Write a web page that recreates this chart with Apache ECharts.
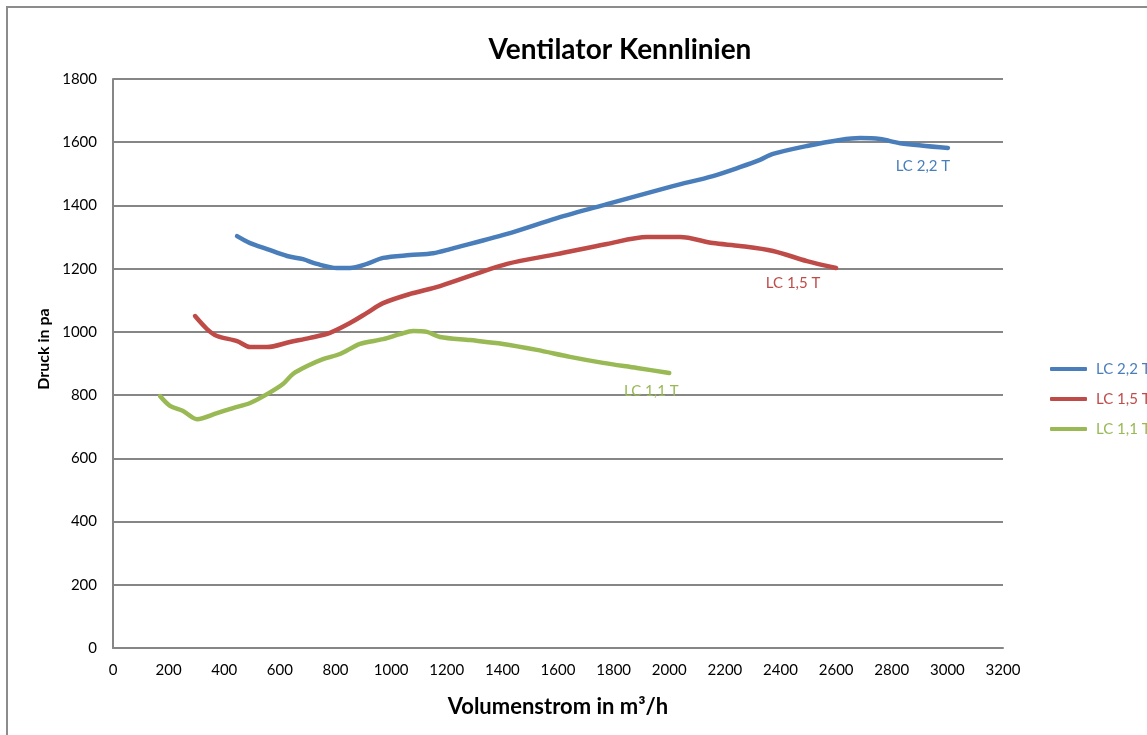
<!DOCTYPE html>
<html>
<head>
<meta charset="utf-8">
<title>Ventilator Kennlinien</title>
<script src="https://cdn.jsdelivr.net/npm/echarts@6/dist/echarts.min.js"></script>
<style>
  html, body { margin: 0; padding: 0; background: #fff; }
  #chart { width: 1147px; height: 735px; }
</style>
</head>
<body>
<div id="chart"></div>
<script>
// Volumenstrom (m³/h) und Druck (Pa)
const lc22X = [446, 493, 554, 626, 683, 733, 805, 852, 913, 971, 1068, 1151, 1212, 1417, 1596, 1776, 2013, 2157, 2254, 2326, 2373, 2495, 2614, 2686, 2758, 2830, 3002]
const lc22Y = [1303, 1281, 1262, 1240, 1230, 1215, 1202, 1202, 1215, 1234, 1243, 1249, 1262, 1310, 1360, 1404, 1461, 1493, 1521, 1544, 1563, 1588, 1607, 1613, 1610, 1597, 1582]

const lc15X = [295, 338, 374, 446, 493, 554, 636, 708, 780, 852, 913, 971, 1068, 1176, 1417, 1596, 1776, 1920, 2039, 2157, 2254, 2373, 2495, 2600]
const lc15Y = [1050, 1009, 987, 971, 952, 952, 968, 981, 997, 1028, 1060, 1091, 1120, 1145, 1215, 1246, 1278, 1300, 1300, 1281, 1272, 1256, 1224, 1202]

const lc11X = [169, 205, 252, 302, 374, 431, 493, 554, 611, 647, 698, 755, 816, 888, 971, 1032, 1079, 1129, 1176, 1284, 1402, 1524, 1643, 1762, 1884, 2000]
const lc11Y = [797, 766, 750, 724, 743, 759, 775, 803, 835, 867, 892, 914, 930, 962, 977, 993, 1003, 1000, 984, 974, 962, 943, 921, 902, 886, 870]

const seriesNames = ['LC 2,2 T', 'LC 1,5 T', 'LC 1,1 T']
const seriesColors = ['#4a7ebb', '#be4b48', '#98b954']
// where the name sits relative to the last point of each curve
const endLabelOffsets = [[-25, 18], [-43, 15], [-18, 18]]

const FONT = 'Lato, "Open Sans", sans-serif'

const chart = echarts.init(document.getElementById('chart'))

chart.setOption({
  backgroundColor: '#fff',
  animation: false,
  title: {
    text: 'Ventilator Kennlinien',
    left: 615,
    textAlign: 'center',
    top: 31,
    textStyle: { fontFamily: FONT, fontSize: 28, fontWeight: 'bold', color: '#000' },
  },
  graphic: [
    {
      type: 'rect',
      shape: { x: 7, y: 7, width: 1300, height: 900 },
      style: { fill: 'none', stroke: '#8c8c8c', lineWidth: 2 },
      silent: true,
    },
    {
      type: 'text',
      x: 44,
      y: 349,
      rotation: Math.PI / 2,
      style: {
        text: 'Druck in pa',
        fontFamily: FONT,
        fontSize: 16,
        fontWeight: 'bold',
        fill: '#000',
        textAlign: 'center',
        textVerticalAlign: 'middle',
      },
    },
  ],
  legend: {
    orient: 'vertical',
    left: 1045,
    top: 356,
    itemWidth: 37,
    itemHeight: 4,
    itemGap: 14,
    icon: 'roundRect',
    data: seriesNames.map((n, i) => ({ name: n, textStyle: { color: seriesColors[i] } })),
    textStyle: { fontFamily: FONT, fontSize: 15, lineHeight: 16, padding: [0, 0, 0, 4] },
  },
  grid: { left: 113, right: 144, top: 79, bottom: 87, containLabel: false },
  xAxis: {
    type: 'value',
    min: 0,
    max: 3200,
    interval: 200,
    name: 'Volumenstrom in m³/h',
    nameLocation: 'middle',
    nameGap: 48,
    nameTextStyle: { fontFamily: FONT, fontSize: 22, fontWeight: 'bold', color: '#000' },
    axisLine: { show: true, lineStyle: { color: '#868686', width: 2 } },
    axisTick: { show: false },
    axisLabel: { fontFamily: FONT, fontSize: 15, color: '#000', margin: 15, formatter: v => String(v) },
    splitLine: { show: false },
  },
  yAxis: {
    type: 'value',
    min: 0,
    max: 1800,
    interval: 200,
    axisLine: { show: true, lineStyle: { color: '#868686', width: 2 } },
    axisTick: { show: false },
    axisLabel: { fontFamily: FONT, fontSize: 15, color: '#000', margin: 16, formatter: v => String(v) },
    splitLine: { show: true, lineStyle: { color: '#868686', width: 2 } },
  },
  series: seriesNames.map((name, i) => {
    const xs = [lc22X, lc15X, lc11X][i]
    const ys = [lc22Y, lc15Y, lc11Y][i]
    return {
      name,
      type: 'line',
      data: xs.map((x, k) => [x, ys[k]]),
      showSymbol: false,
      symbol: 'none',
      smooth: 0.3,
      color: seriesColors[i],
      lineStyle: { width: 4.5, color: seriesColors[i], cap: 'round', join: 'round' },
      endLabel: {
        show: true,
        formatter: '{a}',
        distance: 0,
        align: 'center',
        verticalAlign: 'middle',
        offset: endLabelOffsets[i],
        color: seriesColors[i],
        fontFamily: FONT,
        fontSize: 15,
      },
      emphasis: { disabled: true },
    }
  }),
})
</script>
</body>
</html>
